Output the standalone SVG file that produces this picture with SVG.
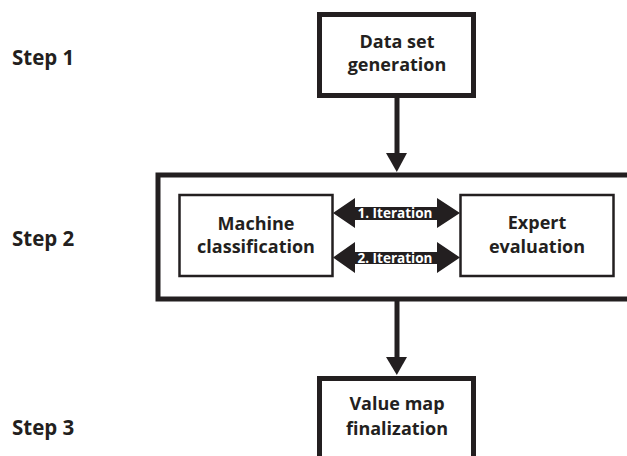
<svg xmlns="http://www.w3.org/2000/svg" width="627" height="456" viewBox="0 0 627 456">
  <style>
    .lbl { font-family: "Open Sans", "Noto Sans", "Liberation Sans", sans-serif; font-weight: 700; fill: #231f20; font-size: 18px; text-anchor: middle; }
    .step { font-family: "Open Sans", "Noto Sans", "Liberation Sans", sans-serif; font-weight: 700; fill: #231f20; font-size: 20.5px; }
    .it { font-family: "Open Sans", "Noto Sans", "Liberation Sans", sans-serif; font-weight: 700; fill: #ffffff; font-size: 13.5px; text-anchor: middle; }
    .thick { fill: #ffffff; stroke: #231f20; stroke-width: 5; }
    .thin { fill: #ffffff; stroke: #231f20; stroke-width: 2.5; }
  </style>
  <rect width="627" height="456" fill="#ffffff"/>

  <!-- step labels -->
  <text class="step" x="12" y="65">Step 1</text>
  <text class="step" x="12" y="246">Step 2</text>
  <text class="step" x="12" y="435">Step 3</text>

  <!-- connectors -->
  <g id="connectors" fill="#231f20">
    <rect x="394.5" y="96" width="5" height="58"/>
    <polygon points="386,153 407,153 396.8,172"/>
    <rect x="394.5" y="300" width="5" height="58"/>
    <polygon points="386,357 407,357 396.8,375"/>
  </g>

  <!-- step 2 frame -->
  <g id="stage2">
    <rect class="thick" x="158" y="175" width="475" height="124"/>
  </g>

  <g id="data-set">
    <rect class="thick" x="319.5" y="14.5" width="154" height="81"/>
    <text class="lbl" x="397" y="48">Data set</text>
    <text class="lbl" x="397" y="71">generation</text>
  </g>

  <g id="machine">
    <rect class="thin" x="179.5" y="195" width="153" height="81"/>
    <text class="lbl" x="256" y="230">Machine</text>
    <text class="lbl" x="256" y="253">classification</text>
  </g>

  <g id="expert">
    <rect class="thin" x="460.5" y="195" width="153" height="81"/>
    <text class="lbl" x="537" y="229">Expert</text>
    <text class="lbl" x="537" y="253">evaluation</text>
  </g>

  <!-- iteration arrows -->
  <g id="iter1">
    <polygon fill="#231f20" points="333,213 355,198 355,207 437,207 437,198 460,213 437,228 437,220 355,220 355,228"/>
    <text class="it" x="395" y="218">1. Iteration</text>
  </g>
  <g id="iter2">
    <polygon fill="#231f20" points="333,257.5 355,242 355,252 437,252 437,242 460,257.5 437,273 437,264 355,264 355,273"/>
    <text class="it" x="395" y="262.5">2. Iteration</text>
  </g>

  <g id="value-map">
    <rect class="thick" x="319.5" y="378.5" width="154" height="90"/>
    <text class="lbl" x="397" y="410">Value map</text>
    <text class="lbl" x="397" y="435">finalization</text>
  </g>
</svg>
